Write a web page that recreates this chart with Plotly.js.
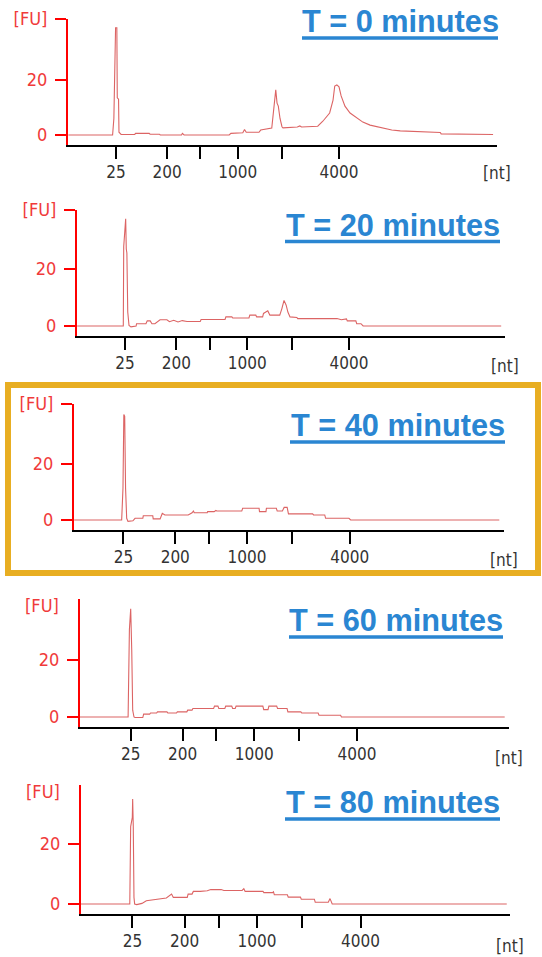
<!DOCTYPE html>
<html>
<head>
<meta charset="utf-8">
<script src="https://cdn.plot.ly/plotly-3.0.1.min.js"></script>
<style>html,body{margin:0;padding:0;background:#fff;}#chart{width:542px;height:957px;}</style>
</head>
<body>
<div id="chart"></div>
<script>
// ---- data (migration time in seconds, fluorescence in FU) ----
const tickTime = [24.5, 30.5, 34.4, 38.8, 44.0, 50.7];
const tickNt = ['25', '200', '', '1000', '', '4000'];
const panelTitles = ['T = 0 minutes', 'T = 20 minutes', 'T = 40 minutes', 'T = 60 minutes', 'T = 80 minutes'];

const t0 = [18.9,24.1,24.25,24.45,24.6,24.65,24.8,24.85,25.1,26.7,26.8,28.4,28.5,29.6,29.7,32.2,32.3,32.5,37.8,38.0,39.4,39.6,39.8,41.3,41.5,42.8,43.27,43.42,43.57,43.77,44.0,44.12,45.8,46.1,46.3,48.2,48.8,49.6,50.0,50.2,50.45,50.7,50.95,51.4,52.0,52.8,53.5,54.35,55.3,56.1,56.9,57.9,60.2,62.6,62.7,64.9,64.95,68.8];
const fu0 = [0,0,6,39,39,13.5,13,1,0.2,0.2,0.6,0.6,0.3,0.3,0,0,0.6,0,0,0.6,0.8,2,1,1,1.8,2.5,16.4,11.6,10.5,6,3,2.6,2.9,3.3,2.9,3.2,5,8,12.7,17.8,18.2,17.5,14.2,10.5,8,6.2,4.7,3.6,2.9,2.3,1.8,1.5,1.1,0.9,0.4,0.4,0.2,0.2];

const t20 = [18.9,24.3,24.35,24.58,24.65,24.72,24.82,24.97,25.2,25.8,25.85,26.95,27.1,27.45,27.65,28.0,28.6,29.4,29.7,30.2,30.7,31.2,31.75,33.3,33.4,36.2,36.3,37.0,37.1,39.0,39.1,39.8,39.9,40.6,40.7,41.2,41.45,42.6,42.85,43.1,43.35,43.55,43.8,44.6,44.7,49.3,49.8,50.4,50.5,51.5,51.6,52.1,52.35,68.5];
const fu20 = [0,0,27.9,37.6,27,25.6,4.9,0.2,-0.3,0,0.8,0.8,1.8,1.8,0.8,0.8,2.2,2.2,1.5,2,1.4,1.9,1.6,1.6,2.3,2.3,3.2,3.2,2.8,2.8,3.8,3.8,3.2,3.2,4.4,5.3,3.8,3.8,6.1,9,7.3,4.9,3.2,3.0,2.6,2.6,2.2,2.5,1.8,1.8,0.8,0.8,0,0];

const t40 = [18.8,24.3,24.45,24.55,24.65,24.75,24.88,25.03,25.6,25.85,26.75,26.8,27.9,27.95,28.75,29.0,29.3,32.0,32.45,32.6,32.7,34.2,34.25,35.0,35.2,35.3,38.2,38.3,40.2,40.25,41.0,41.05,42.2,42.3,42.9,43.1,43.45,43.6,46.4,46.5,47.8,47.9,50.6,50.8,68.0];
const fu40 = [0,0,11.3,37.7,37,11.4,0.6,-0.5,-0.3,0.6,0.6,1.5,1.5,0.4,0.4,2.4,1.8,1.8,2.6,3.2,2.6,2.6,3.0,3.0,3.4,3.2,3.2,4.2,4.2,3.0,3.0,4.2,4.2,3.2,3.2,4.5,4.5,2.2,2.2,1.8,1.8,0.6,0.6,0,0];

const t60 = [18.6,24.2,24.35,24.5,24.62,24.73,24.88,25.0,25.9,26.0,26.7,26.8,27.5,27.6,28.7,28.8,29.8,29.9,31.0,31.1,31.6,31.7,34.1,34.2,34.6,34.7,35.4,35.5,36.2,36.3,36.6,36.7,39.8,39.9,40.4,40.5,41.4,41.5,42.6,42.7,44.2,44.3,46.2,46.3,48.8,48.9,67.8];
const fu60 = [0,0,30.6,38,23.5,2.4,0,-0.2,-0.2,1.0,1.0,1.4,1.4,1.8,1.8,1.4,1.4,1.8,1.8,2.4,2.4,3.0,3.0,3.8,3.8,3.0,3.0,3.8,3.8,3.0,3.0,3.8,3.8,2.6,2.6,3.8,3.8,3.0,3.0,1.8,1.8,1.4,1.4,0.6,0.6,0,0];

const t80 = [18.6,24.2,24.3,24.49,24.53,24.6,24.68,24.76,25.0,25.6,26.1,27.3,28.4,29.0,29.2,30.8,30.9,31.35,31.5,32.3,33.1,33.5,34.7,35.0,37.1,37.3,37.45,39.5,39.6,40.6,40.7,40.8,42.3,42.4,43.8,43.9,45.4,45.5,47.0,47.2,47.45,67.5];
const fu80 = [0,0,25.8,28.9,35,25.9,2.2,0,-0.2,0.2,1.1,1.7,2.0,3.3,2.2,2.2,3.3,3.3,4.2,4.2,4.4,4.8,4.8,4.5,4.5,5.1,4.2,4.2,3.8,3.8,4.1,3.1,3.1,2.3,2.3,1.6,1.6,0.6,0.6,1.8,0,0];

const series = [[t0, fu0], [t20, fu20], [t40, fu40], [t60, fu60], [t80, fu80]];

// ---- layout geometry (pixels) ----
const W = 542, H = 957;
const geo = [
  {l:68, r:497, p25:116,   p4k:339,   top:19,  y20:80,  y0:135, ax:145, lab:173, fuTick:true,  titleX0:302, titleX1:498, ul:38},
  {l:77, r:505, p25:125,   p4k:349,   top:210, y20:269, y0:326, ax:336, lab:366, fuTick:true,  titleX0:285, titleX1:500, ul:241.5},
  {l:74, r:504, p25:123.4, p4k:349.8, top:404, y20:464, y0:520, ax:530, lab:560, fuTick:true,  titleX0:290, titleX1:505, ul:442},
  {l:80, r:509, p25:130.7, p4k:357,   top:599, y20:660, y0:717, ax:727, lab:758, fuTick:false, titleX0:289, titleX1:503, ul:637, fuY:605},
  {l:81, r:510, p25:132.4, p4k:360.5, top:785, y20:844, y0:904, ax:914, lab:946, fuTick:false, titleX0:285, titleX1:500, ul:819, fuY:791}
];
const px = v => v / W;
const py = v => 1 - v / H;

const FONT = 'DejaVu Sans Condensed, Liberation Sans, Arial, sans-serif';
const RED = '#ff0000';
const LABRED = '#f03a3a';
const TRACE = 'rgb(220,100,100)';
const BLUE = '#2a86d2';

const data = [];
const layout = {
  width: W, height: H,
  margin: {l: 0, r: 0, t: 0, b: 0},
  paper_bgcolor: '#ffffff', plot_bgcolor: '#ffffff',
  showlegend: false,
  annotations: [], shapes: []
};

geo.forEach((g, i) => {
  const n = i === 0 ? '' : String(i + 1);
  const s = (g.p4k - g.p25) / (tickTime[5] - tickTime[0]);
  const xr = [tickTime[0] - (g.p25 - g.l) / s, tickTime[0] + (g.r - g.p25) / s];
  const k = (g.y0 - g.y20) / 20;
  const yr = [-(g.ax - g.y0) / k, (g.y0 - g.top) / k];

  data.push({
    x: series[i][0], y: series[i][1],
    xaxis: 'x' + n, yaxis: 'y' + n,
    type: 'scatter', mode: 'lines',
    line: {color: TRACE, width: 1.1},
    hoverinfo: 'skip'
  });

  layout['xaxis' + n] = {
    domain: [px(g.l), px(g.r)], anchor: 'y' + n, range: xr,
    showgrid: false, zeroline: false,
    showline: true, linecolor: '#000000', linewidth: 2,
    ticks: 'outside', ticklen: 12, tickwidth: 2, tickcolor: '#000000',
    tickmode: 'array', tickvals: tickTime, ticktext: tickNt,
    ticklabelstandoff: -1,
    tickfont: {family: FONT, size: 17, color: '#333333'},
    fixedrange: true
  };
  const tv = g.fuTick ? [0, 20, yr[1] * 0.9999] : [0, 20];
  const tt = g.fuTick ? ['0', '20', '[FU]'] : ['0', '20'];
  layout['yaxis' + n] = {
    domain: [py(g.ax), py(g.top)], anchor: 'x' + n, range: yr,
    showgrid: false, zeroline: false,
    showline: true, linecolor: RED, linewidth: 2,
    ticks: 'outside', ticklen: 11, tickwidth: 2, tickcolor: RED,
    tickmode: 'array', tickvals: tv, ticktext: tt,
    ticklabelstandoff: 4,
    tickfont: {family: FONT, size: 18, color: LABRED},
    fixedrange: true
  };

  // [nt] unit label at axis end
  layout.annotations.push({
    xref: 'paper', yref: 'paper', x: px(g.r), y: py(g.lab),
    xanchor: 'center', yanchor: 'middle', showarrow: false,
    text: '[nt]', font: {family: FONT, size: 17, color: '#333333'}
  });
  if (!g.fuTick) {
    layout.annotations.push({
      xref: 'paper', yref: 'paper', x: px(g.l - 38), y: py(g.fuY),
      xanchor: 'center', yanchor: 'middle', showarrow: false,
      text: '[FU]', font: {family: FONT, size: 18, color: LABRED}
    });
  }
  // panel title
  layout.annotations.push({
    xref: 'paper', yref: 'paper', x: px((g.titleX0 + g.titleX1) / 2), y: py(g.ul + 3),
    xanchor: 'center', yanchor: 'bottom', showarrow: false,
    text: '<b>' + panelTitles[i] + '</b>',
    font: {family: 'Liberation Sans, Arial, sans-serif', size: 30.7, color: BLUE}
  });
  layout.shapes.push({
    type: 'line', xref: 'paper', yref: 'paper',
    x0: px(g.titleX0), x1: px(g.titleX1), y0: py(g.ul), y1: py(g.ul),
    line: {color: BLUE, width: 3.5}
  });
});

// highlight frame around the T = 40 minutes panel
layout.shapes.push({
  type: 'rect', xref: 'paper', yref: 'paper',
  x0: px(8), x1: px(538), y0: py(573), y1: py(385),
  line: {color: '#e8ae22', width: 6}, fillcolor: 'rgba(0,0,0,0)', layer: 'above'
});

Plotly.newPlot('chart', data, layout, {displayModeBar: false, staticPlot: true});
</script>
</body>
</html>
